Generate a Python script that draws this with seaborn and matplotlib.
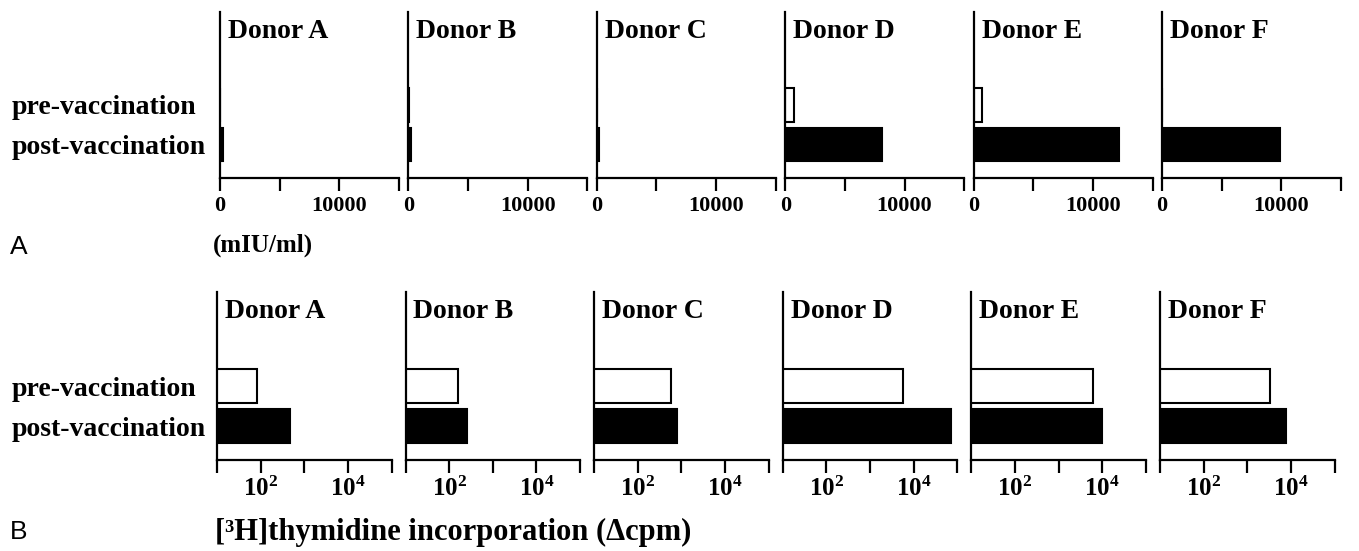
import numpy as np
import pandas as pd
import matplotlib
matplotlib.use('Agg')
from matplotlib import pyplot as plt
import seaborn as sns

# data
donors = ['Donor A', 'Donor B', 'Donor C', 'Donor D', 'Donor E', 'Donor F']
conditions = ['pre-vaccination', 'post-vaccination']
# antibody titer (mIU/ml)
titer_pre = [10, 10, 10, 700, 700, 10]
titer_post = [250, 250, 150, 8100, 12200, 9900]
# [3H]thymidine incorporation (delta cpm)
prolif_pre = [83, 155, 590, 5700, 6000, 3300]
prolif_post = [480, 250, 800, 72000, 10000, 7800]

sns.set_style('ticks')
plt.rcParams['font.family'] = ['Liberation Serif', 'DejaVu Serif']
plt.rcParams['font.weight'] = 'bold'
plt.rcParams['axes.linewidth'] = 1.6
for key in ['text.color', 'axes.edgecolor', 'axes.labelcolor', 'xtick.color', 'ytick.color']:
    plt.rcParams[key] = 'black'

W, H = 1359, 551
fig = plt.figure(figsize=(W / 100, H / 100), dpi=100)
colors = {'pre-vaccination': 'white', 'post-vaccination': 'black'}


def px_axes(left, top, width, height):
    return fig.add_axes([left / W, 1 - (top + height) / H, width / W, height / H])


def draw_panel(ax, name, pre, post, first, left):
    df = pd.DataFrame({'cond': conditions, 'val': [pre, post]})
    sns.barplot(data=df, x='val', y='cond', hue='cond', palette=colors,
                edgecolor='black', linewidth=1.5, width=0.85, legend=False, ax=ax)
    ax.set_ylim(1.85, -2.35)
    sns.despine(ax=ax)
    ax.set_xlabel('')
    ax.set_ylabel('')
    # y labels start at x=12 px in the figure, left aligned
    ax.tick_params(axis='y', length=0, pad=(left - 12) * 0.72, labelsize=20)
    ax.tick_params(axis='x', direction='out', length=9, width=1.6, labelsize=16, pad=4)
    if first:
        for lab in ax.get_yticklabels():
            lab.set_ha('left')
    else:
        ax.set_yticklabels([])
    ax.text(0.045, 0.96, name, transform=ax.transAxes, ha='left', va='top', fontsize=20)
    ax.patch.set_alpha(0)


# row A: linear titers
for i, name in enumerate(donors):
    left = 220 + i * 188.4
    ax = px_axes(left, 12, 179, 166)
    draw_panel(ax, name, titer_pre[i], titer_post[i], i == 0, left)
    ax.set_xlim(0, 15000)
    ax.set_xticks([0, 5000, 10000, 15000])
    ax.set_xticklabels(['0', '', '10000', ''])

# row B: log proliferation
for i, name in enumerate(donors):
    left = 217 + i * 188.6
    ax = px_axes(left, 292, 174.5, 168)
    ax.set_xscale('log')
    draw_panel(ax, name, prolif_pre[i], prolif_post[i], i == 0, left)
    ax.set_xlim(10, 1e5)
    ax.set_xticks([10, 100, 1000, 1e4, 1e5])
    ax.set_xticklabels(['', r'$\mathregular{10^{2}}$', '', r'$\mathregular{10^{4}}$', ''])
    ax.minorticks_off()
    ax.tick_params(axis='x', labelsize=18, pad=3)

fig.text(10 / W, 1 - 247 / H, 'A', family='Liberation Sans', weight='normal',
         fontsize=19, va='center', ha='left')
fig.text(263 / W, 1 - 245 / H, '(mIU/ml)', fontsize=18, va='center', ha='center')
fig.text(10 / W, 1 - 532 / H, 'B', family='Liberation Sans', weight='normal',
         fontsize=19, va='center', ha='left')
fig.text(215 / W, 1 - 532 / H, '[³H]thymidine incorporation (Δcpm)', fontsize=22,
         va='center', ha='left')

fig.savefig('out.png', dpi=100)
